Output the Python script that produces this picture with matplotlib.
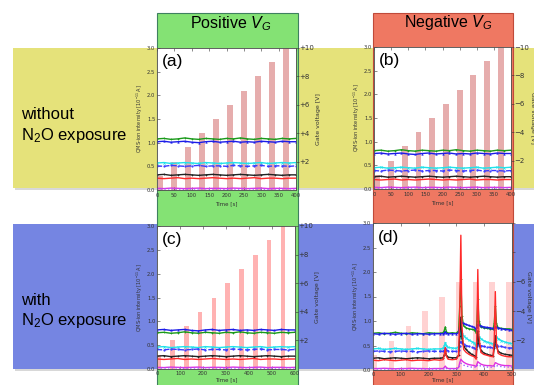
import matplotlib.pyplot as plt
from matplotlib.patches import Rectangle

plt.rcParams['mathtext.fontset'] = 'custom'
plt.rcParams['mathtext.rm'] = 'Liberation Sans'
plt.rcParams['mathtext.it'] = 'Liberation Sans:italic'

W, H = 534, 385

# gate voltage steps: bar centre [s], height [V]
bar_a_t = [10, 50, 90, 130, 170, 210, 250, 290, 330, 370]
bar_a_v = [1, 2, 3, 4, 5, 6, 7, 8, 9, 10]
bar_c_t = [7, 67, 127, 187, 247, 307, 367, 427, 487, 547]
bar_c_v = [1, 2, 3, 4, 5, 6, 7, 8, 9, 10]
bar_d_t = [6, 67, 128, 188, 248, 309, 369, 429, 489]
bar_d_v = [1, 2, 3, 4, 5, 6, 6, 6, 6]

# QMS traces, panel (a) and (b): 0..400 s
t_ab = [0, 20, 40, 60, 80, 100, 120, 140, 160, 180, 200, 220, 240, 260, 280, 300, 320, 340, 360, 380, 400]
a_green = [1.08, 1.09, 1.07, 1.08, 1.10, 1.08, 1.07, 1.09, 1.08, 1.07, 1.09, 1.08, 1.10, 1.08, 1.07, 1.09, 1.08, 1.07, 1.09, 1.08, 1.09]
a_blue = [1.02, 1.03, 1.01, 1.02, 1.03, 1.01, 1.00, 1.02, 1.03, 1.01, 1.02, 1.03, 1.01, 1.02, 1.01, 1.03, 1.02, 1.01, 1.03, 1.02, 1.02]
a_cyan = [0.57, 0.58, 0.56, 0.57, 0.58, 0.57, 0.56, 0.58, 0.57, 0.56, 0.57, 0.58, 0.57, 0.56, 0.57, 0.58, 0.56, 0.57, 0.58, 0.57, 0.58]
a_bdash = [0.51, 0.50, 0.52, 0.51, 0.50, 0.51, 0.52, 0.50, 0.51, 0.51, 0.50, 0.52, 0.51, 0.50, 0.51, 0.52, 0.50, 0.51, 0.51, 0.50, 0.51]
a_black = [0.32, 0.33, 0.31, 0.32, 0.33, 0.32, 0.31, 0.32, 0.33, 0.32, 0.31, 0.32, 0.33, 0.32, 0.31, 0.32, 0.33, 0.32, 0.31, 0.32, 0.32]
a_red = [0.25, 0.24, 0.25, 0.26, 0.24, 0.25, 0.24, 0.25, 0.26, 0.25, 0.24, 0.25, 0.24, 0.25, 0.26, 0.24, 0.25, 0.25, 0.24, 0.25, 0.25]
a_mag = [0.035, 0.03, 0.04, 0.035, 0.03, 0.035, 0.04, 0.03, 0.035, 0.035, 0.03, 0.04, 0.035, 0.03, 0.035, 0.04, 0.03, 0.035, 0.035, 0.03, 0.035]
a_purp = [0.02, 0.02, 0.025, 0.02, 0.015, 0.02, 0.02, 0.025, 0.02, 0.02, 0.015, 0.02, 0.02, 0.025, 0.02, 0.02, 0.015, 0.02, 0.02, 0.025, 0.02]

b_green = [0.81, 0.82, 0.80, 0.81, 0.83, 0.81, 0.80, 0.82, 0.81, 0.80, 0.82, 0.81, 0.83, 0.81, 0.80, 0.82, 0.81, 0.80, 0.82, 0.81, 0.82]
b_blue = [0.75, 0.76, 0.74, 0.75, 0.76, 0.74, 0.73, 0.75, 0.76, 0.74, 0.75, 0.76, 0.74, 0.75, 0.74, 0.76, 0.75, 0.74, 0.76, 0.75, 0.75]
b_cyan = [0.45, 0.46, 0.44, 0.45, 0.46, 0.45, 0.44, 0.46, 0.45, 0.44, 0.45, 0.46, 0.45, 0.44, 0.45, 0.46, 0.44, 0.45, 0.46, 0.45, 0.46]
b_bdash = [0.39, 0.38, 0.40, 0.39, 0.38, 0.39, 0.40, 0.38, 0.39, 0.39, 0.38, 0.40, 0.39, 0.38, 0.39, 0.40, 0.38, 0.39, 0.39, 0.38, 0.39]
b_black = [0.26, 0.27, 0.25, 0.26, 0.27, 0.26, 0.25, 0.26, 0.27, 0.26, 0.25, 0.26, 0.27, 0.26, 0.25, 0.26, 0.27, 0.26, 0.25, 0.26, 0.26]
b_red = [0.20, 0.19, 0.20, 0.21, 0.19, 0.20, 0.19, 0.20, 0.21, 0.20, 0.19, 0.20, 0.19, 0.20, 0.21, 0.19, 0.20, 0.20, 0.19, 0.20, 0.20]
b_mag = [0.035, 0.03, 0.04, 0.035, 0.03, 0.035, 0.04, 0.03, 0.035, 0.035, 0.03, 0.04, 0.035, 0.03, 0.035, 0.04, 0.03, 0.035, 0.035, 0.03, 0.035]
b_purp = [0.02, 0.02, 0.025, 0.02, 0.015, 0.02, 0.02, 0.025, 0.02, 0.02, 0.015, 0.02, 0.02, 0.025, 0.02, 0.02, 0.015, 0.02, 0.02, 0.025, 0.02]

# panel (c): 0..600 s
t_c = [0, 30, 60, 90, 120, 150, 180, 210, 240, 270, 300, 330, 360, 390, 420, 450, 480, 510, 540, 570, 600]
c_green = [0.76, 0.77, 0.75, 0.76, 0.78, 0.76, 0.75, 0.77, 0.76, 0.75, 0.77, 0.76, 0.78, 0.76, 0.75, 0.77, 0.76, 0.75, 0.77, 0.76, 0.77]
c_blue = [0.82, 0.83, 0.81, 0.82, 0.83, 0.81, 0.80, 0.82, 0.83, 0.81, 0.82, 0.83, 0.81, 0.82, 0.81, 0.83, 0.82, 0.81, 0.83, 0.82, 0.82]
c_cyan = [0.46, 0.47, 0.45, 0.46, 0.47, 0.46, 0.45, 0.47, 0.46, 0.45, 0.46, 0.47, 0.46, 0.45, 0.46, 0.47, 0.45, 0.46, 0.47, 0.46, 0.47]
c_bdash = [0.41, 0.40, 0.42, 0.41, 0.40, 0.41, 0.42, 0.40, 0.41, 0.41, 0.40, 0.42, 0.41, 0.40, 0.41, 0.42, 0.40, 0.41, 0.41, 0.40, 0.41]
c_black = [0.27, 0.28, 0.26, 0.27, 0.28, 0.27, 0.26, 0.27, 0.28, 0.27, 0.26, 0.27, 0.28, 0.27, 0.26, 0.27, 0.28, 0.27, 0.26, 0.27, 0.27]
c_red = [0.21, 0.20, 0.21, 0.22, 0.20, 0.21, 0.20, 0.21, 0.22, 0.21, 0.20, 0.21, 0.20, 0.21, 0.22, 0.20, 0.21, 0.21, 0.20, 0.21, 0.21]
c_mag = [0.035, 0.03, 0.04, 0.035, 0.03, 0.035, 0.04, 0.03, 0.035, 0.035, 0.03, 0.04, 0.035, 0.03, 0.035, 0.04, 0.03, 0.035, 0.035, 0.03, 0.035]
c_purp = [0.02, 0.02, 0.025, 0.02, 0.015, 0.02, 0.02, 0.025, 0.02, 0.02, 0.015, 0.02, 0.02, 0.025, 0.02, 0.02, 0.015, 0.02, 0.02, 0.025, 0.02]

# panel (d): 0..500 s, with N2O desorption peaks
t_d = [0, 20, 40, 60, 80, 100, 120, 140, 160, 180, 200, 220, 240,
       252, 256, 260, 264, 270, 285, 300,
       308, 312, 316, 320, 326, 335, 345, 355, 365,
       371, 374, 377, 381, 388, 398, 410, 422, 432,
       436, 440, 444, 450, 462, 475, 488, 500]
d_green = [0.75, 0.76, 0.74, 0.75, 0.77, 0.75, 0.74, 0.76, 0.75, 0.74, 0.76, 0.75, 0.75,
           0.76, 0.80, 0.88, 0.78, 0.75, 0.76, 0.75,
           0.80, 1.30, 1.85, 1.10, 0.90, 0.86, 0.84, 0.83, 0.82,
           0.76, 1.00, 1.45, 1.00, 0.88, 0.86, 0.85, 0.84, 0.83,
           0.95, 1.30, 0.95, 0.86, 0.85, 0.84, 0.84, 0.83]
d_blue = [0.74, 0.73, 0.75, 0.74, 0.73, 0.74, 0.75, 0.73, 0.74, 0.74, 0.73, 0.74, 0.74,
          0.74, 0.75, 0.78, 0.75, 0.74, 0.74, 0.74,
          0.76, 0.90, 1.00, 0.97, 0.95, 0.93, 0.91, 0.89, 0.87,
          0.82, 0.88, 0.93, 0.92, 0.90, 0.88, 0.87, 0.86, 0.85,
          0.84, 0.88, 0.88, 0.86, 0.84, 0.83, 0.82, 0.81]
d_cyan = [0.43, 0.44, 0.42, 0.43, 0.44, 0.43, 0.42, 0.43, 0.44, 0.43, 0.42, 0.43, 0.43,
          0.44, 0.48, 0.56, 0.50, 0.46, 0.45, 0.44,
          0.48, 0.65, 0.78, 0.74, 0.70, 0.65, 0.61, 0.58, 0.55,
          0.48, 0.60, 0.72, 0.68, 0.64, 0.60, 0.57, 0.55, 0.53,
          0.55, 0.70, 0.68, 0.64, 0.60, 0.57, 0.55, 0.54]
d_bdash = [0.38, 0.39, 0.38, 0.37, 0.38, 0.39, 0.38, 0.38, 0.37, 0.38, 0.39, 0.38, 0.38,
           0.38, 0.40, 0.44, 0.41, 0.39, 0.38, 0.38,
           0.40, 0.50, 0.58, 0.56, 0.53, 0.50, 0.48, 0.46, 0.45,
           0.42, 0.48, 0.54, 0.52, 0.50, 0.48, 0.47, 0.46, 0.45,
           0.46, 0.52, 0.52, 0.50, 0.48, 0.46, 0.45, 0.45]
d_black = [0.24, 0.25, 0.23, 0.24, 0.25, 0.24, 0.23, 0.24, 0.25, 0.24, 0.23, 0.24, 0.24,
           0.25, 0.30, 0.38, 0.30, 0.26, 0.25, 0.25,
           0.30, 0.70, 1.08, 0.65, 0.48, 0.42, 0.36, 0.32, 0.29,
           0.26, 0.55, 0.80, 0.55, 0.40, 0.35, 0.32, 0.30, 0.29,
           0.45, 0.70, 0.50, 0.38, 0.34, 0.32, 0.31, 0.30]
d_red = [0.20, 0.19, 0.21, 0.20, 0.19, 0.20, 0.21, 0.19, 0.20, 0.20, 0.19, 0.21, 0.20,
         0.21, 0.30, 0.46, 0.28, 0.22, 0.21, 0.22,
         0.30, 1.20, 2.75, 0.90, 0.42, 0.36, 0.32, 0.29, 0.27,
         0.22, 0.80, 2.05, 0.70, 0.36, 0.32, 0.30, 0.28, 0.27,
         0.60, 1.60, 0.55, 0.34, 0.30, 0.28, 0.27, 0.27]
d_mag = [0.03, 0.03, 0.035, 0.03, 0.025, 0.03, 0.03, 0.035, 0.03, 0.03, 0.025, 0.03, 0.03,
         0.03, 0.05, 0.08, 0.05, 0.03, 0.03, 0.03,
         0.05, 0.15, 0.22, 0.19, 0.16, 0.13, 0.11, 0.10, 0.09,
         0.07, 0.12, 0.17, 0.15, 0.12, 0.10, 0.09, 0.09, 0.08,
         0.10, 0.15, 0.14, 0.12, 0.10, 0.09, 0.09, 0.08]
d_purp = [0.02, 0.02, 0.02, 0.02, 0.02, 0.02, 0.02, 0.02, 0.02, 0.02, 0.02, 0.02, 0.02,
          0.02, 0.03, 0.05, 0.03, 0.02, 0.02, 0.02,
          0.03, 0.09, 0.14, 0.12, 0.10, 0.08, 0.07, 0.06, 0.06,
          0.05, 0.08, 0.11, 0.10, 0.08, 0.07, 0.06, 0.06, 0.05,
          0.07, 0.10, 0.09, 0.08, 0.07, 0.06, 0.06, 0.05]

yticks = [0.0, 0.5, 1.0, 1.5, 2.0, 2.5, 3.0]
vticks = [2, 4, 6, 8, 10]

styles = [
    dict(color='#1a9a1a', ls='-', marker='+', ms=2.0, mew=0.5),
    dict(color='#1c1ce8', ls='-', marker='^', ms=1.2, mew=0.3),
    dict(color='#22e2ea', ls='-', marker='x', ms=1.6, mew=0.5),
    dict(color='#3a3aff', ls='--', marker='.', ms=1.2),
    dict(color='#222222', ls='-', marker='+', ms=1.8, mew=0.5),
    dict(color='#ff2a2a', ls='-'),
    dict(color='#e030e0', ls='-'),
    dict(color='#a060ff', ls=':'),
]


def px(x0, y0, x1, y1):
    return [x0 / W, 1 - y1 / H, (x1 - x0) / W, (y1 - y0) / H]


fig = plt.figure(figsize=(W / 100, H / 100), dpi=100)


# coloured background bands and columns (drawn below every axes)
def band(x0, y0, x1, y1, fc, ec='none', z=-5, lw=0):
    fig.patches.append(Rectangle((x0 / W, 1 - y1 / H), (x1 - x0) / W, (y1 - y0) / H,
                                 transform=fig.transFigure, figure=fig,
                                 facecolor=fc, edgecolor=ec, lw=lw, zorder=z))


band(15, 50, 534, 190, '#d8d8d8', z=-5)
band(13, 48, 534, 188, '#e5e27a', z=-4)
band(15, 226, 534, 371, '#d8d8d8', z=-5)
band(13, 224, 534, 369, '#7585e2', z=-4)
band(157, 13, 298, 386, '#84e274', ec='#3f8060', z=-3, lw=0.8)
band(373, 13, 513, 386, '#ef7862', ec='#c04a3a', z=-3, lw=0.8)

fig.text(231 / W, 1 - 28.5 / H, 'Positive $V_G$', ha='center', va='baseline',
         fontsize=11.5, family='Liberation Sans')
fig.text(448 / W, 1 - 27 / H, 'Negative $V_G$', ha='center', va='baseline',
         fontsize=11.5, family='Liberation Sans')
fig.text(21 / W, 1 - 119 / H, 'without', ha='left', va='baseline',
         fontsize=12, family='Liberation Sans')
fig.text(21 / W, 1 - 140 / H, 'N$_2$O exposure', ha='left', va='baseline',
         fontsize=12, family='Liberation Sans')
fig.text(21 / W, 1 - 305 / H, 'with', ha='left', va='baseline',
         fontsize=12, family='Liberation Sans')
fig.text(21 / W, 1 - 325 / H, 'N$_2$O exposure', ha='left', va='baseline',
         fontsize=12, family='Liberation Sans')


def panel(box, t, traces, bt, bv, bw, bc, xmax, xticks, letter, sign,
          vlabels=None, xpad=2.5):
    ax = fig.add_axes(px(*box))
    tw = ax.twinx()
    tw.set_zorder(1)
    ax.set_zorder(2)
    ax.patch.set_visible(False)
    tw.patch.set_visible(True)
    tw.patch.set_facecolor('white')

    tw.bar(bt, bv, width=bw, color=bc, lw=0)
    tw.set_ylim(0, 10)
    tw.set_yticks(vticks)
    if vlabels is None:
        vlabels = [sign + str(v) for v in vticks]
    tw.set_yticklabels(vlabels)
    tw.tick_params(direction='out', length=2, width=0.4, labelsize=5, pad=0.5,
                   colors='#333333')
    if sign == '+':
        tw.set_ylabel('Gate voltage [V]', fontsize=4.5, labelpad=1.5, color='#333333')
    else:
        tw.set_ylabel('Gate voltage [V]', fontsize=4.5, labelpad=4, rotation=270,
                      color='#333333')

    for y, st in zip(traces, styles):
        ax.plot(t, y, lw=1.0, **st)

    ax.set_xlim(0, xmax)
    ax.set_ylim(0, 3)
    ax.set_yticks(yticks)
    ax.set_yticklabels(['%.1f' % v for v in yticks])
    ax.set_xticks(xticks)
    ax.tick_params(direction='in', length=2, width=0.4, labelsize=3.8, pad=1.2,
                   top=True, colors='#333333')
    ax.tick_params(axis='x', pad=xpad)
    ax.set_xlabel('Time [s]', fontsize=4, labelpad=xpad - 0.5, color='#333333')
    ax.set_ylabel('QMS-ion intensity [10$^{-11}$ A]', fontsize=3.6, labelpad=1.5,
                  color='#333333')
    for sp in list(ax.spines.values()) + list(tw.spines.values()):
        sp.set_linewidth(0.5)
        sp.set_color('#555555')
    ax.text(0.035, 0.955, letter, transform=ax.transAxes, fontsize=12.5, va='top',
            family='Liberation Sans')
    return ax


panel((157, 48, 296, 190), t_ab,
      [a_green, a_blue, a_cyan, a_bdash, a_black, a_red, a_mag, a_purp],
      bar_a_t, bar_a_v, 17, '#e6adad', 400, [0, 50, 100, 150, 200, 250, 300, 350, 400],
      '(a)', '+')
panel((374, 47, 511, 189), t_ab,
      [b_green, b_blue, b_cyan, b_bdash, b_black, b_red, b_mag, b_purp],
      bar_a_t, bar_a_v, 17, '#e6adad', 400, [0, 50, 100, 150, 200, 250, 300, 350, 400],
      '(b)', '\u2212')
panel((157, 226, 295, 369), t_c,
      [c_green, c_blue, c_cyan, c_bdash, c_black, c_red, c_mag, c_purp],
      bar_c_t, bar_c_v, 20, '#ffb2b2', 600, [0, 100, 200, 300, 400, 500, 600],
      '(c)', '+', xpad=1.5)
panel((373, 223, 512, 370), t_d,
      [d_green, d_blue, d_cyan, d_bdash, d_black, d_red, d_mag, d_purp],
      bar_d_t, bar_d_v, 20, '#ffd2d2', 500, [0, 100, 200, 300, 400, 500],
      '(d)', '\u2212', ['\u22122', '\u22124', '\u22126', '', ''], xpad=1.2)

fig.savefig('out.png', dpi=100)
